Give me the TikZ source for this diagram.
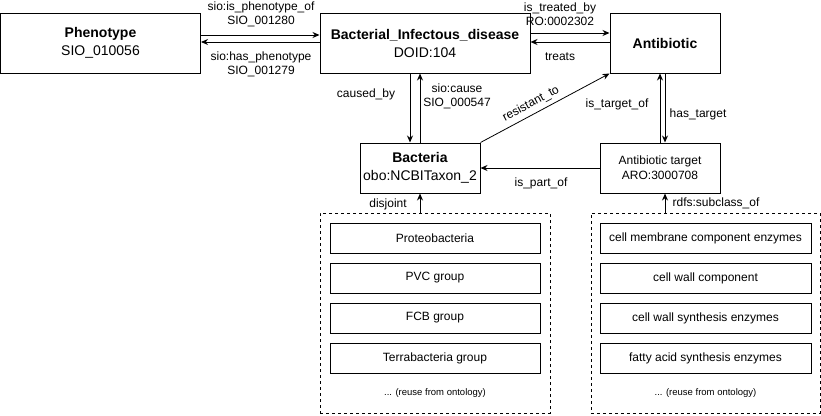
\documentclass[tikz,border=0pt]{standalone}
\usepackage{fontspec}
\setmainfont{Liberation Sans}
\usetikzlibrary{arrows.meta}
\begin{document}
\begin{tikzpicture}[x=1pt,y=-1pt,
  box/.style={draw,line width=1pt,align=center,inner sep=0pt,font=\fontsize{14}{18}\selectfont},
  inbox/.style={draw,line width=1pt,align=center,inner sep=0pt,minimum width=210pt,minimum height=30pt,font=\fontsize{12}{14}\selectfont},
  group/.style={draw,line width=0.8pt,dash pattern=on 3pt off 3pt,inner sep=0pt},
  lbl/.style={align=center,inner sep=1pt,font=\fontsize{12}{14}\selectfont},
  note/.style={inner sep=0pt,font=\fontsize{9.5}{11}\selectfont},
  arr/.style={line width=1pt,-{Stealth[length=7pt,width=6pt]}}]
\useasboundingbox (0,0) rectangle (821,415);
% main boxes
\node[box,minimum width=200pt,minimum height=60pt] (pheno) at (100.5,43) {\textbf{Phenotype}\\SIO\_010056};
\node[box,minimum width=210pt,minimum height=60pt] (bact) at (425,43) {\textbf{Bacterial\_Infectous\_disease}\\DOID:104};
\node[box,minimum width=110pt,minimum height=60pt] (anti) at (665,43) {\textbf{Antibiotic}};
\node[box,minimum width=120pt,minimum height=50pt] (bac) at (420,168) {\textbf{Bacteria}\\obo:NCBITaxon\_2};
\node[box,minimum width=120pt,minimum height=50pt,font=\fontsize{12}{15}\selectfont] (targ) at (660,168) {Antibiotic target\\ARO:3000708};
% groups
\node[group,minimum width=230pt,minimum height=200pt] (gl) at (435,313) {};
\node[group,minimum width=229pt,minimum height=200pt] (gr) at (705.5,313) {};
\node[inbox] (l1) at (435,238) {Proteobacteria};
\node[inbox] (l2) at (435,278) {PVC group};
\node[inbox] (l3) at (435,318) {FCB group};
\node[inbox] (l4) at (435,358) {Terrabacteria group};
\node[note] (l5) at (435,393) {... (reuse from ontology)};
\node[inbox,minimum width=211pt] (r1) at (705.5,238) {cell membrane component enzymes};
\node[inbox,minimum width=211pt] (r2) at (705.5,278) {cell wall component};
\node[inbox,minimum width=211pt] (r3) at (705.5,318) {cell wall synthesis enzymes};
\node[inbox,minimum width=211pt] (r4) at (705.5,358) {fatty acid synthesis enzymes};
\node[note] (r5) at (705.5,393) {... (reuse from ontology)};
% connectors
\draw[arr] ([yshift=8pt]pheno.east) -- ([yshift=8pt]bact.west);
\draw[arr] ([yshift=1pt]bact.west) -- ([yshift=1pt]pheno.east);
\draw[arr] ([yshift=10pt]bact.east) -- ([yshift=10pt]anti.west);
\draw[arr] ([yshift=1pt]anti.west) -- ([yshift=1pt]bact.east);
\draw[arr] ([xshift=-15pt]bact.south) -- ([xshift=-10pt]bac.north);
\draw[arr] (bac.north) -- ([xshift=-5pt]bact.south);
\draw[line width=0.8pt,-{Stealth[length=7pt,width=6pt]}] (bac.north east) -- (anti.south west);
\draw[arr] (targ.north) -- ([xshift=-5pt]anti.south);
\draw[arr] (anti.south) -- ([xshift=5pt]targ.north);
\draw[arr] (targ.west) -- (bac.east);
\draw[arr] ([xshift=-15pt]gl.north) -- (bac.south);
\draw[arr] ([xshift=-40.5pt]gr.north) -- ([xshift=5pt]targ.south);
% labels
\node[lbl] (t1) at (261,14) {sio:is\_phenotype\_of\\SIO\_001280};
\node[lbl] (t2) at (261,64) {sio:has\_phenotype\\SIO\_001279};
\node[lbl] (t3) at (560,14) {is\_treated\_by\\RO:0002302};
\node[lbl] (t4) at (560,57) {treats};
\node[lbl] (t5) at (366,94) {caused\_by};
\node[lbl] (t6) at (457,96) {sio:cause\\SIO\_000547};
\node[lbl,rotate=28] (t7) at (531,104) {resistant\_to};
\node[lbl] (t8) at (617,104) {is\_target\_of};
\node[lbl] (t9) at (698,114) {has\_target};
\node[lbl] (t10) at (541,183) {is\_part\_of};
\node[lbl] (t11) at (388,204) {disjoint};
\node[lbl] (t12) at (716,203) {rdfs:subclass\_of};
\end{tikzpicture}
\end{document}
